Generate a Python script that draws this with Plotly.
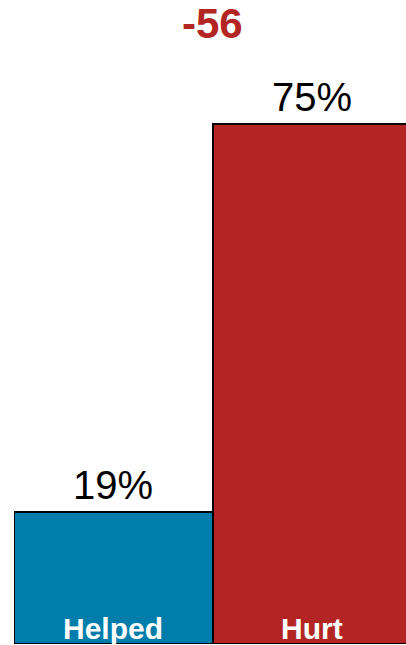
import plotly.graph_objects as go

categories = ["Helped", "Hurt"]
values = [19, 75]
value_labels = ["19%", "75%"]
colors = ["#007DAA", "#B22523"]
net_label = "-56"

FONT = "Liberation Sans, Arial, sans-serif"

fig = go.Figure()
fig.add_trace(go.Bar(
    x=[0, 1],
    y=values,
    marker=dict(color=colors, line=dict(color="black", width=2)),
    hoverinfo="skip",
    width=1,
))

for i, (v, lab) in enumerate(zip(values, value_labels)):
    fig.add_annotation(
        x=i, y=v, xref="x", yref="y", text=lab,
        showarrow=False, yanchor="bottom", yshift=3,
        font=dict(family=FONT, size=40, color="black"),
    )

for i, c in enumerate(categories):
    fig.add_annotation(
        x=i, y=0, xref="x", yref="y", text=f"<b>{c}</b>",
        showarrow=False, yanchor="bottom", yshift=-3,
        font=dict(family=FONT, size=30, color="white"),
    )

fig.add_annotation(
    x=0.5, y=1 - 24 / 644, xref="x", yref="paper", text=f"<b>{net_label}</b>",
    showarrow=False, yanchor="middle",
    font=dict(family=FONT, size=42, color="#B22523"),
)

fig.update_layout(
    width=406, height=645,
    margin=dict(l=14, r=0, t=0, b=1),
    paper_bgcolor="white", plot_bgcolor="white",
    showlegend=False,
    bargap=0,
    xaxis=dict(range=[-0.5, 1.47], visible=False, fixedrange=True),
    yaxis=dict(range=[0, 92.9], visible=False, fixedrange=True),
)

fig.write_html(
    "out.html",
    config={"displayModeBar": False},
    post_script="document.body.style.margin='0';document.body.style.overflow='hidden';",
)
